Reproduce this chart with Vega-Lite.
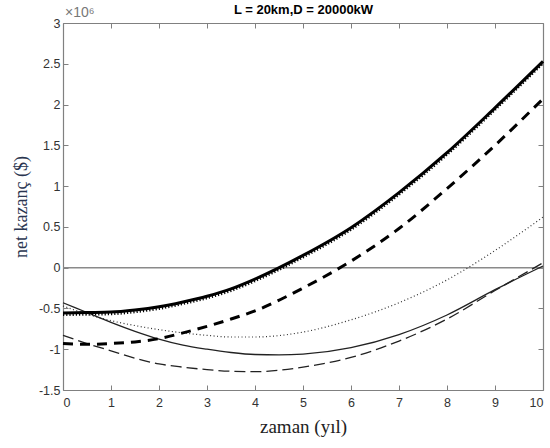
{
  "$schema": "https://vega.github.io/schema/vega-lite/v6.json",
  "width": 480,
  "height": 367,
  "autosize": {"type": "none"},
  "padding": {"left": 63, "top": 23, "right": 7, "bottom": 58},
  "background": "white",
  "config": {
    "view": {"stroke": null},
    "axis": {"grid": false, "domainColor": "#808080", "tickColor": "#808080", "labelColor": "#333333", "labelFont": "Liberation Sans", "labelFontSize": 12.5, "tickSize": -5, "domainWidth": 1.2}
  },
  "datasets": {
    "thickSolid": [
      {"t": 0, "v": -0.555}, {"t": 0.5, "v": -0.55}, {"t": 1, "v": -0.545}, {"t": 1.5, "v": -0.52}, {"t": 2, "v": -0.48}, {"t": 2.5, "v": -0.42}, {"t": 3, "v": -0.35}, {"t": 3.5, "v": -0.26}, {"t": 4, "v": -0.14}, {"t": 5, "v": 0.15}, {"t": 6, "v": 0.49}, {"t": 7, "v": 0.92}, {"t": 8, "v": 1.41}, {"t": 9, "v": 1.96}, {"t": 10, "v": 2.53}
    ],
    "thickDotted": [
      {"t": 0, "v": -0.575}, {"t": 0.5, "v": -0.57}, {"t": 1, "v": -0.565}, {"t": 1.5, "v": -0.54}, {"t": 2, "v": -0.5}, {"t": 2.5, "v": -0.44}, {"t": 3, "v": -0.37}, {"t": 3.5, "v": -0.28}, {"t": 4, "v": -0.16}, {"t": 5, "v": 0.13}, {"t": 6, "v": 0.47}, {"t": 7, "v": 0.9}, {"t": 8, "v": 1.39}, {"t": 9, "v": 1.94}, {"t": 10, "v": 2.51}
    ],
    "thickDashed": [
      {"t": 0, "v": -0.93}, {"t": 0.5, "v": -0.94}, {"t": 1, "v": -0.93}, {"t": 1.5, "v": -0.91}, {"t": 2, "v": -0.87}, {"t": 2.5, "v": -0.8}, {"t": 3, "v": -0.72}, {"t": 3.5, "v": -0.63}, {"t": 4, "v": -0.53}, {"t": 5, "v": -0.25}, {"t": 6, "v": 0.08}, {"t": 7, "v": 0.48}, {"t": 8, "v": 0.97}, {"t": 9, "v": 1.5}, {"t": 10, "v": 2.07}
    ],
    "thinDotted": [
      {"t": 0, "v": -0.47}, {"t": 0.5, "v": -0.57}, {"t": 1, "v": -0.65}, {"t": 1.5, "v": -0.71}, {"t": 2, "v": -0.76}, {"t": 2.5, "v": -0.8}, {"t": 3, "v": -0.83}, {"t": 3.5, "v": -0.85}, {"t": 4, "v": -0.85}, {"t": 5, "v": -0.79}, {"t": 6, "v": -0.64}, {"t": 7, "v": -0.43}, {"t": 8, "v": -0.15}, {"t": 9, "v": 0.21}, {"t": 10, "v": 0.62}
    ],
    "thinSolid": [
      {"t": 0, "v": -0.43}, {"t": 0.5, "v": -0.55}, {"t": 1, "v": -0.67}, {"t": 1.5, "v": -0.78}, {"t": 2, "v": -0.875}, {"t": 2.5, "v": -0.95}, {"t": 3, "v": -1.0}, {"t": 3.5, "v": -1.04}, {"t": 4, "v": -1.065}, {"t": 4.5, "v": -1.07}, {"t": 5, "v": -1.06}, {"t": 6, "v": -0.98}, {"t": 7, "v": -0.82}, {"t": 8, "v": -0.58}, {"t": 9, "v": -0.27}, {"t": 10, "v": 0.02}
    ],
    "thinDashed": [
      {"t": 0, "v": -0.83}, {"t": 0.5, "v": -0.93}, {"t": 1, "v": -1.02}, {"t": 1.5, "v": -1.11}, {"t": 2, "v": -1.18}, {"t": 2.5, "v": -1.22}, {"t": 3, "v": -1.25}, {"t": 3.5, "v": -1.27}, {"t": 4, "v": -1.275}, {"t": 5, "v": -1.22}, {"t": 6, "v": -1.1}, {"t": 7, "v": -0.9}, {"t": 8, "v": -0.63}, {"t": 9, "v": -0.28}, {"t": 10, "v": 0.06}
    ]
  },
  "resolve": {"axis": {"x": "independent", "y": "independent"}},
  "layer": [
    {
      "data": {"name": "thickSolid"},
      "mark": {"type": "line", "opacity": 0},
      "encoding": {
        "x": {"field": "t", "type": "quantitative", "scale": {"domain": [0, 10], "nice": false}, "axis": {"orient": "top", "labels": false, "values": [0,1,2,3,4,5,6,7,8,9,10], "title": "L = 20km,D = 20000kW", "titleFont": "Liberation Sans", "titleFontSize": 13, "titleFontWeight": "bold", "titleColor": "#000000", "titlePadding": 6}},
        "y": {"field": "v", "type": "quantitative", "scale": {"domain": [-1.5, 3], "nice": false}, "axis": {"orient": "right", "labels": false, "title": null, "values": [-1.5,-1,-0.5,0,0.5,1,1.5,2,2.5,3]}}
      }
    },
    {
      "data": {"values": [{"z": 0}]},
      "mark": {"type": "rule", "color": "#8a8a8a", "strokeWidth": 1.5},
      "encoding": {"y": {"field": "z", "type": "quantitative", "axis": null}}
    },
    {
      "data": {"name": "thinDotted"},
      "mark": {"type": "line", "interpolate": "monotone", "color": "#333333", "strokeWidth": 1.2, "strokeDash": [1, 2.5]},
      "encoding": {
        "x": {"field": "t", "type": "quantitative", "axis": {"orient": "bottom", "values": [0,1,2,3,4,5,6,7,8,9,10], "labelPadding": 11, "title": "zaman (yıl)", "titleFont": "Liberation Serif", "titleFontSize": 19, "titleFontWeight": "normal", "titleColor": "#222222", "titlePadding": 9}},
        "y": {"field": "v", "type": "quantitative", "axis": {"orient": "left", "values": [-1.5,-1,-0.5,0,0.5,1,1.5,2,2.5,3], "labelPadding": 8, "format": "~g", "labelExpr": "replace(datum.label, '−', '-')", "title": "net kazanç ($)", "titleFont": "Liberation Serif", "titleFontSize": 18, "titleFontWeight": "normal", "titleColor": "#2a3550", "titlePadding": 8}}
      }
    },
    {
      "data": {"name": "thinSolid"},
      "mark": {"type": "line", "interpolate": "monotone", "color": "#222222", "strokeWidth": 1.3},
      "encoding": {"x": {"field": "t", "type": "quantitative", "axis": null}, "y": {"field": "v", "type": "quantitative", "axis": null}}
    },
    {
      "data": {"name": "thinDashed"},
      "mark": {"type": "line", "interpolate": "monotone", "color": "#222222", "strokeWidth": 1.3, "strokeDash": [11, 5]},
      "encoding": {"x": {"field": "t", "type": "quantitative", "axis": null}, "y": {"field": "v", "type": "quantitative", "axis": null}}
    },
    {
      "data": {"name": "thickDashed"},
      "mark": {"type": "line", "interpolate": "monotone", "color": "#000000", "strokeWidth": 3, "strokeDash": [10, 7]},
      "encoding": {"x": {"field": "t", "type": "quantitative", "axis": null}, "y": {"field": "v", "type": "quantitative", "axis": null}}
    },
    {
      "data": {"name": "thickDotted"},
      "mark": {"type": "line", "interpolate": "monotone", "color": "#000000", "strokeWidth": 3, "strokeDash": [1.2, 2]},
      "encoding": {"x": {"field": "t", "type": "quantitative", "axis": null}, "y": {"field": "v", "type": "quantitative", "axis": null}}
    },
    {
      "data": {"name": "thickSolid"},
      "mark": {"type": "line", "interpolate": "monotone", "color": "#000000", "strokeWidth": 3},
      "encoding": {"x": {"field": "t", "type": "quantitative", "axis": null}, "y": {"field": "v", "type": "quantitative", "axis": null}}
    },
    {
      "data": {"values": [{"label": "×10⁶"}]},
      "mark": {"type": "text", "align": "left", "baseline": "bottom", "dx": 2, "dy": -3, "font": "Liberation Sans", "fontSize": 14, "color": "#777777"},
      "encoding": {"x": {"datum": 0, "type": "quantitative", "axis": null}, "y": {"datum": 3, "type": "quantitative", "axis": null}, "text": {"field": "label"}}
    }
  ]
}
